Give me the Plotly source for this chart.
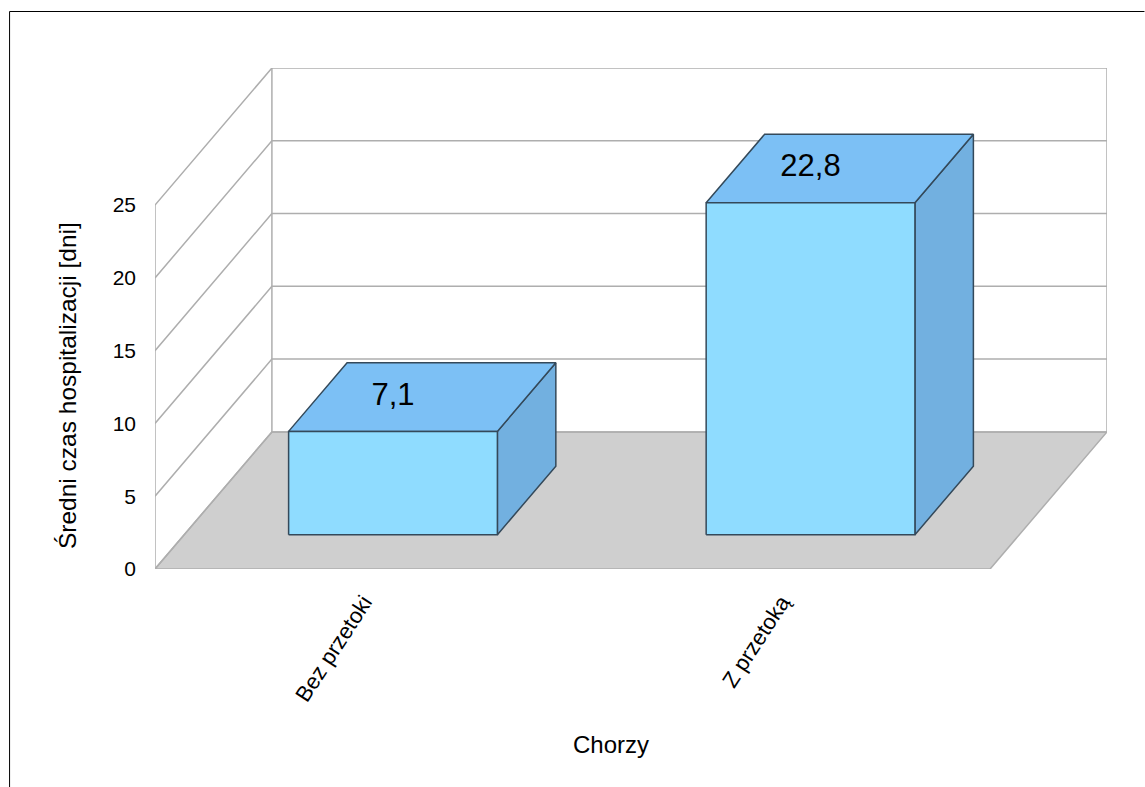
import plotly.graph_objects as go

# Chart data
categories = ["Bez przetoki", "Z przetoką"]
values = [7.1, 22.8]
value_labels = ["7,1", "22,8"]
y_ticks = [0, 5, 10, 15, 20, 25]
x_title = "Chorzy"
y_title = "Średni czas hospitalizacji [dni]"

# Oblique projection: full depth shifts a point right and up along the axes
WIDTH, HEIGHT = 1145, 787
M_L, M_R, M_T, M_B = 155, 37.5, 68, 218
PLOT_W = WIDTH - M_L - M_R
PLOT_H = HEIGHT - M_T - M_B
DEPTH_X = 0.28        # category units
DEPTH_Y = 9.42        # value units
X_MAX = len(categories) + DEPTH_X
Y_MAX = y_ticks[-1] + DEPTH_Y
BAR_HALF = 0.25
D_FRONT, D_BACK = 0.25, 0.75

GRID = "#aeaeae"
FLOOR = "#cfcfcf"
FACE_FRONT = "#8fdcff"
FACE_TOP = "#7cc0f5"
FACE_SIDE = "#72b0e0"
EDGE = "#34495a"
FONT = "Liberation Sans"


def project(x, v, d):
    return x + d * DEPTH_X, v + d * DEPTH_Y


def polygon(points, fill, line, width=1.5):
    xs, ys = zip(*[project(*p) for p in points])
    return go.Scatter(
        x=list(xs) + [xs[0]], y=list(ys) + [ys[0]], mode="lines",
        fill="toself", fillcolor=fill, line=dict(color=line, width=width),
        hoverinfo="skip", showlegend=False, cliponaxis=False,
    )


def polyline(points, color=GRID, width=1.5):
    xs, ys = zip(*[project(*p) for p in points])
    return go.Scatter(
        x=list(xs), y=list(ys), mode="lines", line=dict(color=color, width=width),
        hoverinfo="skip", showlegend=False, cliponaxis=False,
    )


fig = go.Figure()
n = len(categories)
top = y_ticks[-1]

# Floor
fig.add_trace(polygon([(0, 0, 0), (n, 0, 0), (n, 0, 1), (0, 0, 1)], FLOOR, GRID))

# Walls and gridlines
fig.add_trace(polyline([(0, 0, 0), (0, top, 0)]))
fig.add_trace(polyline([(0, 0, 1), (0, top, 1)]))
fig.add_trace(polyline([(n, 0, 1), (n, top, 1)]))
for t in y_ticks:
    fig.add_trace(polyline([(0, t, 0), (0, t, 1), (n, t, 1)]))

# Bars: side, top and front faces
for i, v in enumerate(values):
    x0, x1 = i + 0.5 - BAR_HALF, i + 0.5 + BAR_HALF
    fig.add_trace(polygon([(x1, 0, D_FRONT), (x1, 0, D_BACK), (x1, v, D_BACK), (x1, v, D_FRONT)], FACE_SIDE, EDGE))
    fig.add_trace(polygon([(x0, v, D_FRONT), (x1, v, D_FRONT), (x1, v, D_BACK), (x0, v, D_BACK)], FACE_TOP, EDGE))
    fig.add_trace(polygon([(x0, 0, D_FRONT), (x1, 0, D_FRONT), (x1, v, D_FRONT), (x0, v, D_FRONT)], FACE_FRONT, EDGE))

# Value labels sit on the top face of each bar
fig.add_trace(go.Scatter(
    x=[i + 0.5 + D_FRONT * DEPTH_X for i in range(n)],
    y=[v + 0.5 * DEPTH_Y for v in values],
    mode="text", text=value_labels, textposition="middle center",
    textfont=dict(family=FONT, size=31, color="black"),
    hoverinfo="skip", showlegend=False, cliponaxis=False,
))

fig.update_xaxes(
    range=[0, X_MAX], showgrid=False, zeroline=False, showline=False,
    tickmode="array", tickvals=[i + 0.5 for i in range(n)], ticktext=categories,
    tickangle=-57, ticks="", ticklabelstandoff=15,
    tickfont=dict(family=FONT, size=22, color="black"),
)
fig.update_yaxes(
    range=[0, Y_MAX], showgrid=False, zeroline=False, showline=False,
    tickmode="array", tickvals=y_ticks, ticktext=[str(t) for t in y_ticks],
    ticks="", ticklabelstandoff=18,
    tickfont=dict(family=FONT, size=21, color="black"),
)

fig.update_layout(
    width=WIDTH, height=HEIGHT, autosize=False,
    margin=dict(l=M_L, r=M_R, t=M_T, b=M_B, pad=0),
    paper_bgcolor="white", plot_bgcolor="white", showlegend=False,
    annotations=[
        dict(text=x_title, xref="paper", yref="paper",
             x=(611 - M_L) / PLOT_W, y=(HEIGHT - M_B - 744) / PLOT_H,
             showarrow=False, xanchor="center", yanchor="middle",
             font=dict(family=FONT, size=24, color="black")),
        dict(text=y_title, xref="paper", yref="paper",
             x=(67 - M_L) / PLOT_W, y=(HEIGHT - M_B - 386) / PLOT_H,
             showarrow=False, textangle=-90, xanchor="center", yanchor="middle",
             font=dict(family=FONT, size=24.5, color="black")),
    ],
    # Open frame along the top and left of the page
    shapes=[
        dict(type="line", xref="paper", yref="paper", layer="below",
             x0=(9.5 - M_L) / PLOT_W, x1=(WIDTH - M_L) / PLOT_W,
             y0=(HEIGHT - M_B - 11.5) / PLOT_H, y1=(HEIGHT - M_B - 11.5) / PLOT_H,
             line=dict(color="black", width=1)),
        dict(type="line", xref="paper", yref="paper", layer="below",
             x0=(9.5 - M_L) / PLOT_W, x1=(9.5 - M_L) / PLOT_W,
             y0=(HEIGHT - M_B - 11.5) / PLOT_H, y1=(HEIGHT - M_B - HEIGHT) / PLOT_H,
             line=dict(color="black", width=1)),
    ],
)

fig.write_html("out.html")
